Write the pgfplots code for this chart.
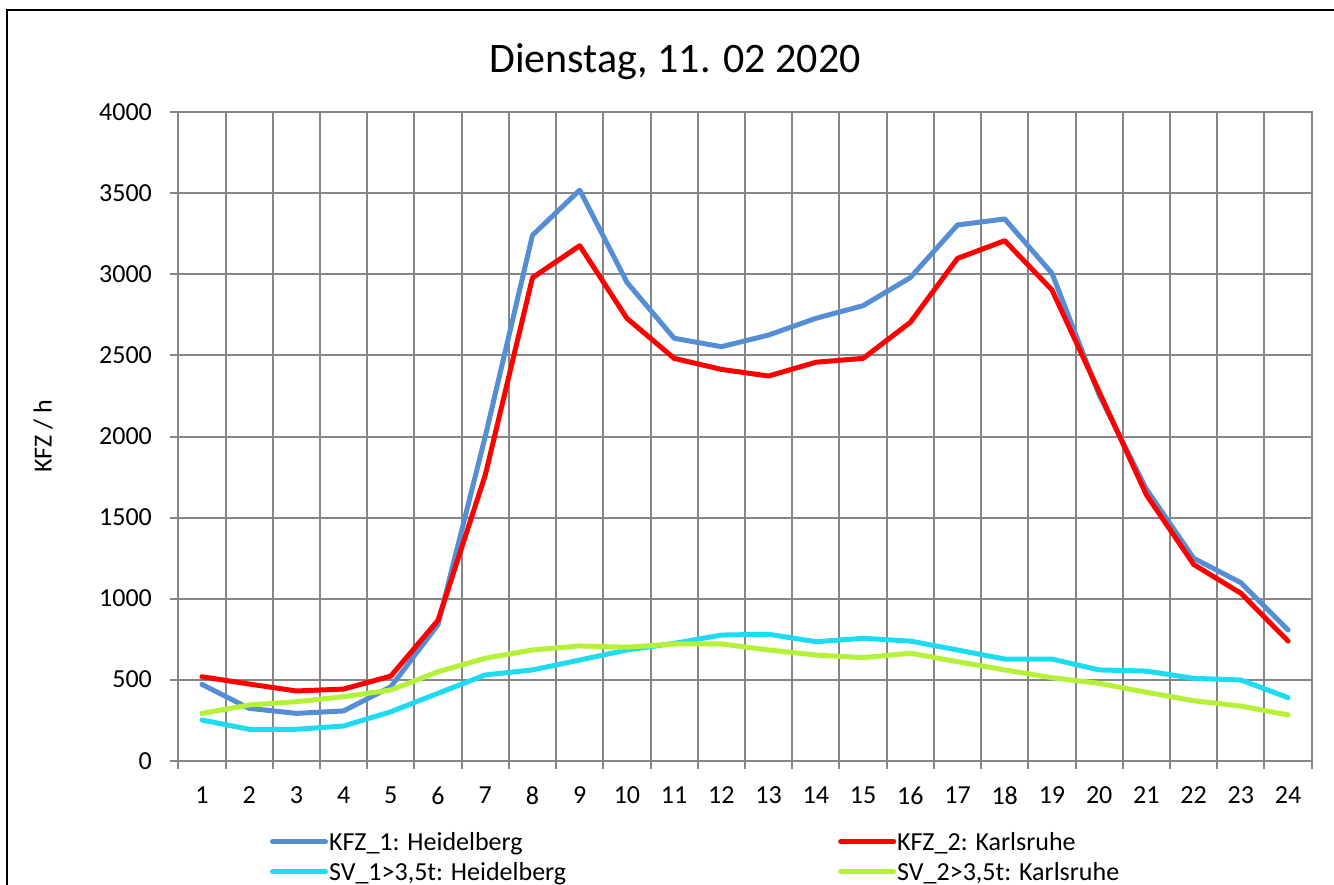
\documentclass[border=0pt]{standalone}
\usepackage{fontspec}
\setmainfont{Carlito}
\usepackage{pgfplots}
\usepackage{pgfplotstable}
\pgfplotsset{compat=1.18}
\definecolor{kfzone}{RGB}{85,142,213}
\definecolor{kfztwo}{RGB}{255,0,0}
\definecolor{svone}{RGB}{29,220,242}
\definecolor{svtwo}{RGB}{181,242,55}
\definecolor{gridgray}{RGB}{134,134,134}
\pgfplotstableread{
h kfz1 kfz2 sv1 sv2
1 471 518 251 292
2 323 473 194 344
3 292 430 194 364
4 307 442 214 395
5 456 522 302 436
6 840 866 416 549
7 2000 1762 529 632
8 3242 2980 560 683
9 3520 3177 621 708
10 2951 2729 683 700
11 2606 2482 724 720
12 2554 2414 775 720
13 2626 2373 780 683
14 2729 2458 734 652
15 2807 2482 755 636
16 2980 2704 738 663
17 3305 3099 683 611
18 3342 3208 627 560
19 3007 2904 627 512
20 2256 2275 560 477
21 1675 1640 553 422
22 1249 1211 508 370
23 1098 1033 498 337
24 806 738 389 282
}\datatable
\begin{document}
\begin{tikzpicture}
\useasboundingbox (0,0) rectangle (667pt,442pt);
\draw[line width=1pt] (3.5pt,-2pt) -- (3.5pt,437pt) -- (670pt,437pt);
\node[anchor=base, font=\fontsize{21}{25}\selectfont] at (337.5pt,405.5pt) {Dienstag, 11. 02 2020};
\node[rotate=90, anchor=base, font=\fontsize{13}{16}\selectfont] at (25.85pt,223.75pt) {KFZ / h};
\begin{axis}[
  at={(89.15pt,61.65pt)}, anchor=south west,
  scale only axis, width=566.7pt, height=324.2pt,
  xmin=0.5, xmax=24.5, ymin=0, ymax=4000,
  axis line style={draw=gridgray, line width=1pt},
  tick pos=left, tick align=outside, major tick length=4pt,
  tick style={draw=gridgray, line width=1pt},
  grid style={draw=gridgray, line width=1pt},
  ytick={0,500,...,4000}, ymajorgrids,
  xtick={0.5,1.5,...,24.5}, xticklabels={}, xmajorgrids,
  extra x ticks={1,2,...,24},
  extra x tick style={major tick length=0pt, grid=none},
  ticklabel style={font=\fontsize{13}{16}\selectfont},
  /pgf/number format/assume math mode=true,
  /pgf/number format/1000 sep={},
  scaled ticks=false,
  yticklabel style={anchor=east, inner sep=0pt, xshift=-9pt},
  xticklabel style={anchor=north, inner sep=0pt, yshift=-13pt},
  legend columns=2,
  legend cell align=left,
  legend image code/.code={\draw[#1] (0pt,0pt) -- (26.5pt,0pt);},
  legend style={at={(0.08091,-0.10703)}, anchor=north west, draw=none, fill=none,
    inner sep=0pt, outer sep=0pt, row sep=3.4pt,
    font=\fontsize{13}{16}\selectfont,
    nodes={inner sep=0pt, text height=10pt, text depth=1.6pt},
    /tikz/every odd column/.style={column sep=0.5pt},
    /tikz/every even column/.style={column sep=136pt}},
  every axis plot/.append style={line width=2.5pt, line join=round, line cap=round},
]
\addplot[kfzone] table[x=h, y=kfz1] {\datatable};
\addlegendentry{KFZ\_1: Heidelberg}
\addplot[kfztwo] table[x=h, y=kfz2] {\datatable};
\addlegendentry{KFZ\_2: Karlsruhe}
\addplot[svone] table[x=h, y=sv1] {\datatable};
\addlegendentry{SV\_1>3,5t: Heidelberg}
\addplot[svtwo] table[x=h, y=sv2] {\datatable};
\addlegendentry{SV\_2>3,5t: Karlsruhe}
\end{axis}
\end{tikzpicture}
\end{document}
